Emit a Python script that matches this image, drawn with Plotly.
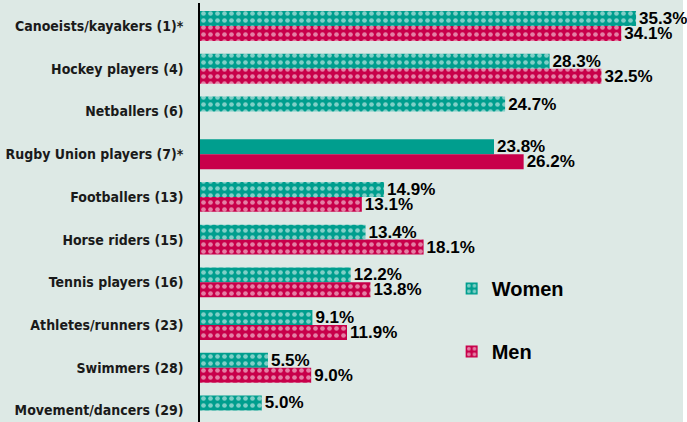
import plotly.graph_objects as go

categories = ["Canoeists/kayakers (1)*", "Hockey players (4)", "Netballers (6)",
              "Rugby Union players (7)*", "Footballers (13)", "Horse riders (15)",
              "Tennis players (16)", "Athletes/runners (23)", "Swimmers (28)",
              "Movement/dancers (29)"]
women = [35.3, 28.3, 24.7, 23.8, 14.9, 13.4, 12.2, 9.1, 5.5, 5.0]
men = [34.1, 32.5, None, 26.2, 13.1, 18.1, 13.8, 11.9, 9.0, None]
solid = ["Rugby Union players (7)*"]  # drawn without pattern

TEAL = "#009e8e"
CRIMSON = "#c8004a"
BG = "#dde9e5"
LABEL_FONT = "Liberation Sans Narrow, DejaVu Sans Condensed, sans-serif"
VALUE_FONT = "Liberation Sans, Arial, sans-serif"


def _pattern(cats, col):
    shapes = ["" if c in solid else "." for c in cats]
    return dict(shape=shapes, fillmode="overlay", fgcolor="white",
                bgcolor=col, size=7, solidity=0.35)


def _labels(vals):
    return ["" if v is None else f"{v:.1f}%" for v in vals]


fig = go.Figure()
for name, vals, col, grp in [("Women", women, TEAL, "w"), ("Men", men, CRIMSON, "m")]:
    fig.add_trace(go.Bar(
        y=categories, x=vals, name=name, orientation="h",
        marker=dict(color=col, line=dict(width=0), pattern=_pattern(categories, col)),
        text=_labels(vals), textposition="outside", cliponaxis=False,
        constraintext="none",
        textfont=dict(family=VALUE_FONT, size=17, color="black", weight="bold"),
        legendgroup=grp,
    ))

# white strip at the right edge of the picture
fig.add_shape(type="rect", xref="paper", yref="paper", x0=1, x1=1.05, y0=-0.05, y1=1.05,
              fillcolor="white", line=dict(width=0), layer="below")

fig.update_layout(
    width=687, height=422,
    barmode="group", bargap=0.3, bargroupgap=0,
    plot_bgcolor=BG, paper_bgcolor=BG,
    margin=dict(l=200, r=4, t=3, b=0),
    xaxis=dict(range=[0, 39.1], visible=False, showgrid=False, zeroline=False),
    yaxis=dict(range=[9.27, -0.54], showgrid=False, zeroline=False, automargin=False,
               showline=True, linecolor="black", linewidth=1.5,
               ticks="", ticklabelstandoff=12,
               tickfont=dict(family=LABEL_FONT, size=14, color="#1a1a1a", weight="bold")),
    showlegend=True,
    legend=dict(x=0.521, y=0.365, xanchor="left", yanchor="top",
                bgcolor="rgba(0,0,0,0)", traceorder="grouped", tracegroupgap=34,
                font=dict(family=VALUE_FONT, size=20, color="black", weight="bold")),
)

# drop the page's default body margin so the chart sits at the window corner
fig.write_html("out.html", config={"displayModeBar": False},
               post_script="document.body.style.margin='0';")
